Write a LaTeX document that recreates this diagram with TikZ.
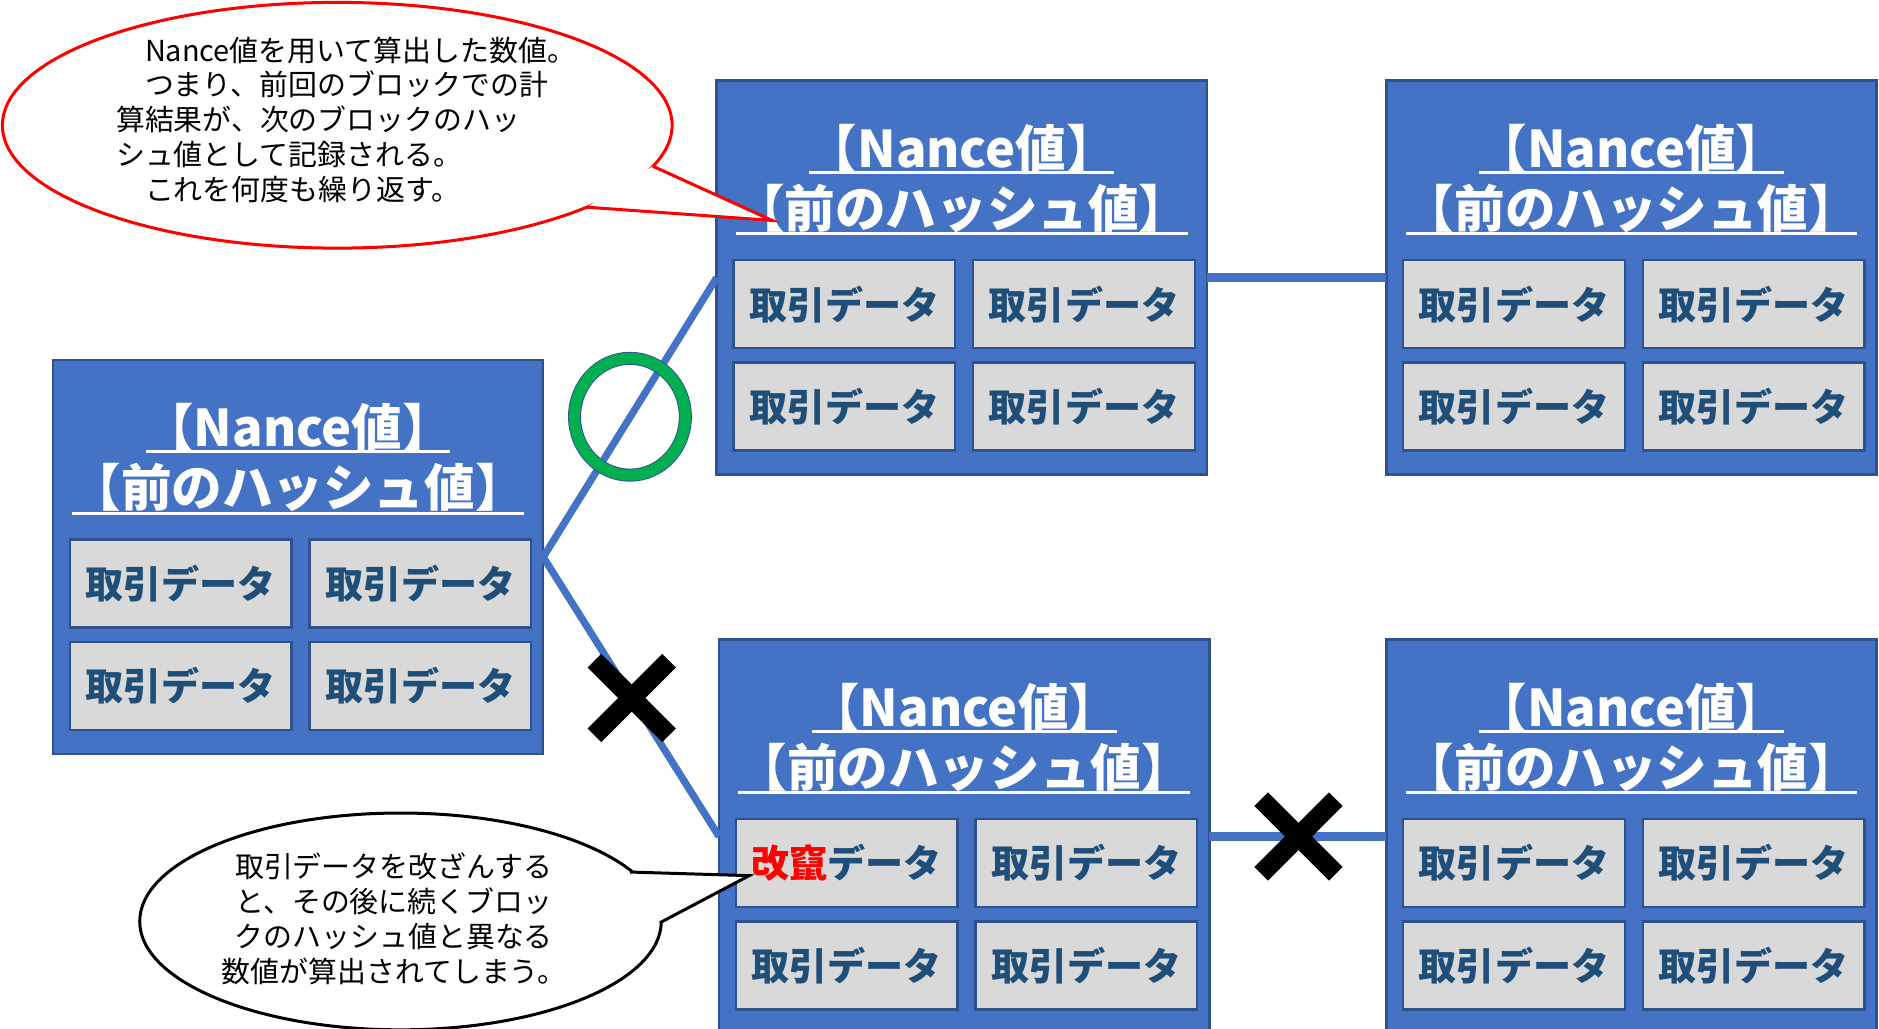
\documentclass[tikz,border=0pt]{standalone}
\usepackage{fontspec}
\setmainfont{Noto Sans CJK JP}
\usetikzlibrary{shapes.geometric}
\definecolor{blk}{HTML}{4472C4}
\definecolor{blkedge}{HTML}{2F528F}
\definecolor{cellfill}{HTML}{D9D9D9}
\definecolor{celltext}{HTML}{1F4E79}
\definecolor{okgreen}{HTML}{00B050}
\definecolor{tamper}{HTML}{FF0000}
\newcommand\lbk{\makebox[0.5em][r]{【}}
\newcommand\rbk{\makebox[0.5em][l]{】}}
\newcommand\chainblock[4]{%
  \begin{scope}[shift={(#2,#3)}]
    \node[block] (#1) at (0,0) {};
    \node[title] (#1-t1) at (203.5,56) {\lbk Nance値\rbk};
    \draw[uline] (77,76) -- (330,76);
    \node[title] (#1-t2) at (203.5,106) {\lbk 前のハッシュ値\rbk};
    \draw[uline] (16,127) -- (391,127);
    \node[cell] (#1-a) at (106,185.5) {#4};
    \node[cell] (#1-b) at (305,185.5) {取引データ};
    \node[cell] (#1-c) at (106,270.5) {取引データ};
    \node[cell] (#1-d) at (305,270.5) {取引データ};
  \end{scope}}
\begin{document}
\begin{tikzpicture}[x=0.5pt,y=-0.5pt,
  block/.style={draw=blkedge, fill=blk, line width=1pt, minimum width=203.5pt,
    minimum height=163.5pt, inner sep=0pt, outer sep=0pt, anchor=north west},
  cell/.style={draw=blkedge, fill=cellfill, line width=1pt, minimum width=92pt,
    minimum height=36.5pt, inner sep=0pt, text=celltext,
    font=\bfseries\fontsize{15.8}{18}\selectfont},
  title/.style={text=white, inner sep=0pt, font=\bfseries\fontsize{21}{24}\selectfont},
  uline/.style={white, line width=1.2pt},
  link/.style={blk, line width=3pt},
  hlink/.style={blk, line width=4pt},
  cross/.style={black, line width=8pt},
  note/.style={inner sep=0pt, font=\fontsize{12}{14.5}\selectfont},
]
\useasboundingbox (0,0) rectangle (1560,854);

\chainblock{L}{44}{299}{取引データ}
\chainblock{T1}{595}{67}{取引データ}
\chainblock{T2}{1151}{67}{取引データ}
\chainblock{B1}{597}{531}{\textcolor{tamper}{改竄}データ}
\chainblock{B2}{1151}{531}{取引データ}

\draw[link] (L.east) -- (T1.west);
\draw[link] (L.east) -- (B1.west);
\draw[hlink] (T1.east) -- (T2.west);
\draw[hlink] (B1.east) -- (B2.west);

% green ring
\node[ellipse, draw=blkedge, line width=5.4pt, minimum width=46pt, minimum height=48.5pt, inner sep=0pt] (ok) at (523,346) {};
\node[ellipse, draw=okgreen, line width=4.6pt, minimum width=46pt, minimum height=48.5pt, inner sep=0pt] (okg) at (523,346) {};

% crosses
\coordinate (x1) at (524.5,579.5);
\draw[cross] ([shift={(-31,-31)}]x1) -- ([shift={(31,31)}]x1);
\draw[cross] ([shift={(31,-31)}]x1) -- ([shift={(-31,31)}]x1);
\coordinate (x2) at (1078,694.5);
\draw[cross] ([shift={(-31,-31)}]x2) -- ([shift={(31,31)}]x2);
\draw[cross] ([shift={(31,-31)}]x2) -- ([shift={(-31,31)}]x2);

% red callout
\node[ellipse, draw=tamper, fill=white, line width=1.25pt, minimum width=278pt,
  minimum height=102pt, inner sep=0pt] (rc) at (280,104) {};
\coordinate (ra1) at (542,138);
\coordinate (rtip) at (641,183);
\coordinate (ra2) at (487,172);
\fill[white] (ra1) -- (rtip) -- (ra2) -- cycle;
\draw[tamper, line width=1.25pt] (ra1) -- (rtip) -- (ra2);
\node[note, anchor=north west, align=left] (rtext) at (96,30) {%
　Nance値を用いて算出した数値。\\
　つまり、前回のブロックでの計\\
算結果が、次のブロックのハッ\\
シュ値として記録される。\\
　これを何度も繰り返す。};

% black callout
\node[ellipse, draw=black, fill=white, line width=1.25pt, minimum width=216.5pt,
  minimum height=90pt, inner sep=0pt] (bc) at (332.5,765) {};
\coordinate (ba1) at (523,724);
\coordinate (btip) at (622,727);
\coordinate (ba2) at (548,766);
\fill[white] (ba1) -- (btip) -- (ba2) -- cycle;
\draw[black, line width=1.25pt] (ba1) -- (btip) -- (ba2);
\node[note, align=center] (btext) at (327,763) {%
取引データを改ざんする\\
と、その後に続くブロッ\\
クのハッシュ値と異なる\\
数値が算出されてしまう。};
\end{tikzpicture}
\end{document}
